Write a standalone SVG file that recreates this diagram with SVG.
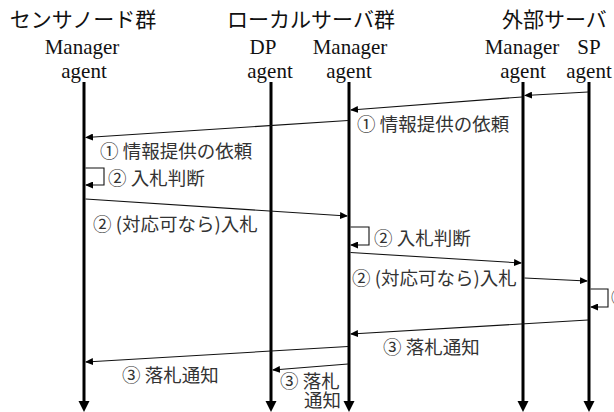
<svg xmlns="http://www.w3.org/2000/svg" width="614" height="412" viewBox="0 0 614 412">
<style>
.hdr{font-family:"Liberation Serif","Noto Sans CJK JP",serif;font-size:21px;fill:#111}
.ag{font-family:"Liberation Serif",serif;font-size:21px;fill:#111;text-anchor:middle}
.lbl{font-family:"Noto Sans CJK JP","Noto Sans",sans-serif;font-size:18.5px;fill:#333}
.life{stroke:#000;stroke-width:3;fill:none}
.head{fill:#000}
.msg{stroke:#111;stroke-width:1.1;fill:none;marker-end:url(#ah)}
</style>
<defs>
<marker id="ah" markerUnits="userSpaceOnUse" markerWidth="8" markerHeight="7" refX="7" refY="3.5" orient="auto">
<path d="M0,0 L8,3.5 L0,7 z" fill="#000"/>
</marker>
</defs>
<rect width="614" height="412" fill="#fff"/>
<g id="headers">
<text class="hdr" x="83" y="27" text-anchor="middle">センサノード群</text>
<text class="hdr" x="311" y="27" text-anchor="middle">ローカルサーバ群</text>
<text class="hdr" x="502" y="27">外部サーバ</text>
</g>
<g id="sensor-manager">
<text class="ag" x="82" y="54">Manager</text>
<text class="ag" x="84" y="78">agent</text>
<line class="life" x1="84" y1="82" x2="84" y2="402"/>
<path class="head" d="M78.5,401 L89.5,401 L84,412 z"/>
</g>
<g id="local-dp">
<text class="ag" x="263" y="54">DP</text>
<text class="ag" x="270" y="78">agent</text>
<line class="life" x1="271" y1="82" x2="271" y2="402"/>
<path class="head" d="M265.5,401 L276.5,401 L271,412 z"/>
</g>
<g id="local-manager">
<text class="ag" x="350" y="54">Manager</text>
<text class="ag" x="349" y="78">agent</text>
<line class="life" x1="349" y1="82" x2="349" y2="402"/>
<path class="head" d="M343.5,401 L354.5,401 L349,412 z"/>
</g>
<g id="ext-manager">
<text class="ag" x="522" y="54">Manager</text>
<text class="ag" x="523" y="78">agent</text>
<line class="life" x1="523" y1="82" x2="523" y2="402"/>
<path class="head" d="M517.5,401 L528.5,401 L523,412 z"/>
</g>
<g id="ext-sp">
<text class="ag" x="589" y="54">SP</text>
<text class="ag" x="589" y="78">agent</text>
<line class="life" x1="589" y1="82" x2="589" y2="402"/>
<path class="head" d="M583.5,401 L594.5,401 L589,412 z"/>
</g>
<g id="connectors">
<line class="msg" x1="588" y1="92" x2="525" y2="95.5"/>
<line class="msg" x1="522" y1="97" x2="351" y2="110"/>
<line class="msg" x1="348" y1="120.5" x2="86" y2="137.5"/>
<path class="msg" d="M85.5,168 H104 V185 H86"/>
<line class="msg" x1="85.5" y1="199" x2="347" y2="216"/>
<path class="msg" d="M350.5,227 H369 V245 H351"/>
<line class="msg" x1="350.5" y1="252.5" x2="521" y2="263"/>
<line class="msg" x1="524.5" y1="278" x2="587" y2="281"/>
<path class="msg" d="M590.5,289 H608 V307 H591"/>
<line class="msg" x1="588" y1="320" x2="351" y2="334"/>
<line class="msg" x1="348" y1="346.5" x2="86" y2="362"/>
<line class="msg" x1="348" y1="364" x2="273" y2="370"/>
</g>
<g id="labels">
<text class="lbl" x="357" y="131">① 情報提供の依頼</text>
<text class="lbl" x="100" y="158">① 情報提供の依頼</text>
<text class="lbl" x="108" y="185">② 入札判断</text>
<text class="lbl" x="93" y="231">② (対応可なら)入札</text>
<text class="lbl" x="374" y="245">② 入札判断</text>
<text class="lbl" x="352" y="285">② (対応可なら)入札</text>
<text class="lbl" x="611" y="304">②</text>
<text class="lbl" x="383" y="354">③ 落札通知</text>
<text class="lbl" x="122" y="382">③ 落札通知</text>
<text class="lbl" x="280" y="388">③ 落札<tspan x="341" y="407" text-anchor="end">通知</tspan></text>
</g>
</svg>
